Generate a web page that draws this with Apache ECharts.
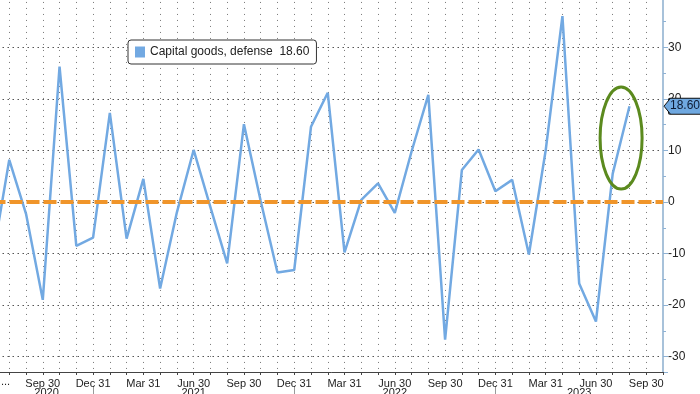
<!DOCTYPE html>
<html><head><meta charset="utf-8">
<script src="https://cdn.jsdelivr.net/npm/echarts@6/dist/echarts.min.js"></script>
<style>html,body{margin:0;padding:0;background:#fff}#c{width:700px;height:394px}</style>
</head><body><div id="c"></div>
<script>
const seriesName = 'Capital goods, defense';
const months = [
 '2020-06-30','2020-07-31','2020-08-31','2020-09-30','2020-10-31','2020-11-30','2020-12-31',
 '2021-01-31','2021-02-28','2021-03-31','2021-04-30','2021-05-31','2021-06-30','2021-07-31','2021-08-31','2021-09-30','2021-10-31','2021-11-30','2021-12-31',
 '2022-01-31','2022-02-28','2022-03-31','2022-04-30','2022-05-31','2022-06-30','2022-07-31','2022-08-31','2022-09-30','2022-10-31','2022-11-30','2022-12-31',
 '2023-01-31','2023-02-28','2023-03-31','2023-04-30','2023-05-31','2023-06-30','2023-07-31','2023-08-31','2023-09-30','2023-10-31'
];
const values = [
 -11.0, 8.2, -2.3, -19.0, 26.3, -8.5, -6.9,
 17.3, -7.1, 4.5, -16.8, -2.0, 10.1, -1.0, -11.9, 15.1, 0.2, -13.7, -13.2,
 14.6, 21.2, -9.8, 0.4, 3.6, -2.1, 9.8, 20.8, -26.7, 6.2, 10.2, 2.1,
 4.3, -10.2, 10.0, 36.1, -15.8, -23.2, 5.5, 18.6
];
const years = ['2020','2021','2022','2023'];
const monthNames = ['Jan','Feb','Mar','Apr','May','Jun','Jul','Aug','Sep','Oct','Nov','Dec'];
const quarterMonths = [3,6,9,12];
const refLevel = 0;
const lastValue = values[values.length-1];
const FONT = 'Liberation Sans';
const TAG_BLUE = '#6fa8e0';

const chart = echarts.init(document.getElementById('c'), null, {renderer:'canvas'});
const option = {
  animation: false,
  backgroundColor: '#fff',
  grid: {left: -7.5, right: 37, top: -4.06, bottom: 22, containLabel: false, outerBoundsMode: 'none'},
  legend: {
    left: 128, top: 40,
    padding: [6, 7, 6, 7],
    itemWidth: 10, itemHeight: 11, itemGap: 5,
    icon: 'rect',
    borderColor: '#333', borderWidth: 1, borderRadius: 3,
    backgroundColor: '#fff',
    textStyle: {fontSize: 12, color: '#222', fontFamily: FONT},
    formatter: n => n + '  ' + lastValue.toFixed(2),
    data: [seriesName]
  },
  xAxis: {
    type: 'category', data: months, boundaryGap: false,
    axisLine: {show: true, onZero: false, lineStyle: {color: '#444', width: 1}},
    axisTick: {show: true, interval: 0, length: 3, lineStyle: {color: '#444'}},
    axisLabel: {
      interval: (i, v) => i > 0 && quarterMonths.includes(+v.slice(5,7)),
      formatter: v => monthNames[+v.slice(5,7)-1] + ' ' + (+v.slice(8,10)),
      color: '#222', fontSize: 11, fontFamily: FONT, margin: 6, hideOverlap: false
    },
    splitLine: {show: true, interval: 0, lineStyle: {color: '#777', type: [1,5], width: 1}}
  },
  yAxis: {
    type: 'value', position: 'right', min: -33, max: 40, splitNumber: 7,
    axisLine: {show: true, lineStyle: {color: '#a8c2da', width: 2}},
    axisTick: {show: true, length: 5, lineStyle: {color: '#8fb2d4', width: 1}},
    minorTick: {show: true, splitNumber: 2, length: 3, lineStyle: {color: '#8fb2d4'}},
    axisLabel: {color: '#222', fontSize: 12, fontFamily: FONT, margin: 5, showMinLabel: false},
    splitLine: {show: true, lineStyle: {color: '#555', type: [1.5,3.5], width: 1}}
  },
  series: [{
    name: seriesName, type: 'line', data: values,
    showSymbol: false, symbol: 'none',
    itemStyle: {color: '#72a9e2'},
    lineStyle: {color: '#72a9e2', width: 2.5},
    markLine: {
      silent: true, symbol: ['none','none'], animation: false,
      label: {show: false},
      data: [
        {yAxis: refLevel, lineStyle: {color: '#f0952a', width: 4, type: [13,4]}, label: {show: false}},
        {yAxis: lastValue, lineStyle: {color: 'rgba(0,0,0,0)', width: 1},
         label: {show: true, position: 'end', distance: 6, formatter: lastValue.toFixed(2),
                 backgroundColor: TAG_BLUE, borderColor: '#111', borderWidth: 1, borderRadius: 1,
                 padding: [2,1,1,1], color: '#0d1a33', fontSize: 12, fontFamily: FONT}}
      ]
    }
  }]
};
chart.setOption(option);

// annotations computed from the axes
const px = c => chart.convertToPixel({xAxisIndex: 0}, c);
const py = v => chart.convertToPixel({yAxisIndex: 0}, v);
const plotRight = px(months[months.length-1]);
const decIdx = months.map((m,i)=>m.slice(5,7)==='12'?i:-1).filter(i=>i>=0);
const gfx = [];
years.forEach((y, k) => {
  const start = k === 0 ? 0 : px(months[decIdx[k-1]]);
  const end = k < decIdx.length ? px(months[decIdx[k]]) : plotRight;
  gfx.push({type:'text', x:(start+end)/2, y:387, style:{text:y, fill:'#222', font:'11px ' + FONT, textAlign:'center', textVerticalAlign:'top'}});
});
decIdx.forEach(i => {
  const x = Math.round(px(months[i])) + 0.5;
  gfx.push({type:'line', shape:{x1:x, y1:386, x2:x, y2:394}, style:{stroke:'#999', lineWidth:1}});
});
gfx.push({type:'text', x:1, y:376, style:{text:'...', fill:'#222', font:'11px ' + FONT}});
const n = values.length;
const cx = (px(months[n-2]) + px(months[n-1]))/2;
const cy = py(12.4);
gfx.push({type:'ellipse', shape:{cx:cx, cy:cy, rx:21, ry:51}, style:{fill:'none', stroke:'#5b8a1e', lineWidth:3}, z:100});
// arrow of value tag
const ty = py(lastValue);
const tip = plotRight + 1, base = plotRight + 7.5;
gfx.push({type:'polygon', shape:{points:[[tip,ty],[base,ty-8],[base,ty+8]]}, style:{fill:TAG_BLUE}, z:100});
gfx.push({type:'polyline', shape:{points:[[base,ty-8],[tip,ty],[base,ty+8]]}, style:{stroke:'#111', lineWidth:1, fill:'none'}, z:100});
chart.setOption({graphic: gfx});
</script></body></html>
